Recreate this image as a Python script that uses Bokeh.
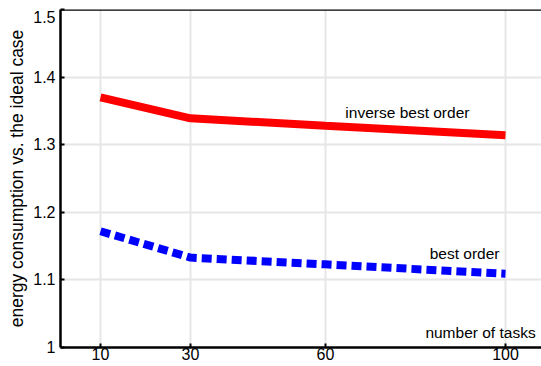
from bokeh.plotting import figure
from bokeh.models import FixedTicker, LinearAxis, Range1d, Span
from bokeh.core.properties import value
from bokeh.embed import file_html
from bokeh.resources import INLINE

# ---- data ----
tasks = [10, 30, 60, 100]
inverse_best_order = [1.370, 1.339, 1.328, 1.314]
best_order = [1.172, 1.133, 1.123, 1.109]
x_ticks = [10, 30, 60, 100]
y_ticks = [1.0, 1.1, 1.2, 1.3, 1.4, 1.5]
y_tick_labels = ["1", "1.1", "1.2", "1.3", "1.4", "1.5"]

FONT = "Liberation Sans"

p = figure(width=541, height=366, output_backend="svg", toolbar_location=None,
           x_range=Range1d(1.11, 108.0), y_range=Range1d(1.0, 1.5),
           min_border_left=60, min_border_right=0, min_border_top=9,
           min_border_bottom=19, x_axis_location=None, y_axis_location=None)
p.outline_line_color = None
p.background_fill_color = "white"
p.border_fill_color = "white"

# axes
xb = LinearAxis(ticker=FixedTicker(ticks=x_ticks))
yl = LinearAxis(ticker=FixedTicker(ticks=y_ticks))
for ax in (xb, yl):
    ax.axis_line_color = "black"
    ax.axis_line_width = 2.5
    ax.major_tick_in = 4
    ax.major_tick_out = 0
    ax.major_tick_line_color = "black"
    ax.major_tick_line_width = 2
    ax.minor_tick_line_color = None
    ax.major_label_text_font = FONT
    ax.major_label_text_color = "black"
    ax.major_label_text_font_size = "16px"
xb.major_label_standoff = 0
yl.major_label_standoff = 5
yl.major_label_text_line_height = 0.5
overrides = {t: l for t, l in zip(y_ticks, y_tick_labels)}
overrides[y_ticks[-1]] = "\n" + y_tick_labels[-1]   # top label sits just inside, like the original
yl.major_label_overrides = overrides
yl.axis_label = "energy consumption vs. the ideal case"
yl.axis_label_text_font = FONT
yl.axis_label_text_font_size = "17.5px"
yl.axis_label_text_font_style = "normal"
yl.axis_label_text_color = "black"
yl.axis_label_standoff = 3
p.add_layout(xb, "below")
p.add_layout(yl, "left")

# top border
p.add_layout(Span(location=1.5, dimension="width", line_color="black", line_width=2.5))

# grid
p.xgrid.ticker = FixedTicker(ticks=x_ticks)
p.ygrid.ticker = FixedTicker(ticks=y_ticks)
for g in (p.xgrid, p.ygrid):
    g.grid_line_color = "#e6e6e6"
    g.grid_line_width = 2

# series
p.line(tasks, inverse_best_order, line_color="red", line_width=8)
p.line(tasks, best_order, line_color="blue", line_width=8, line_dash="10 5")

# labels
p.text(x=[78.2], y=[1.347], text=["inverse best order"], text_font=value(FONT),
       text_font_size="15.5px", text_align="center", text_baseline="middle", text_color="black")
p.text(x=[90.9], y=[1.139], text=["best order"], text_font=value(FONT),
       text_font_size="15.5px", text_align="center", text_baseline="middle", text_color="black")
p.text(x=[106.7], y=[1.022], text=["number of tasks"], text_font=value(FONT),
       text_font_size="15.5px", text_align="right", text_baseline="middle", text_color="black")

open("out.html", "w").write(file_html(p, INLINE))
